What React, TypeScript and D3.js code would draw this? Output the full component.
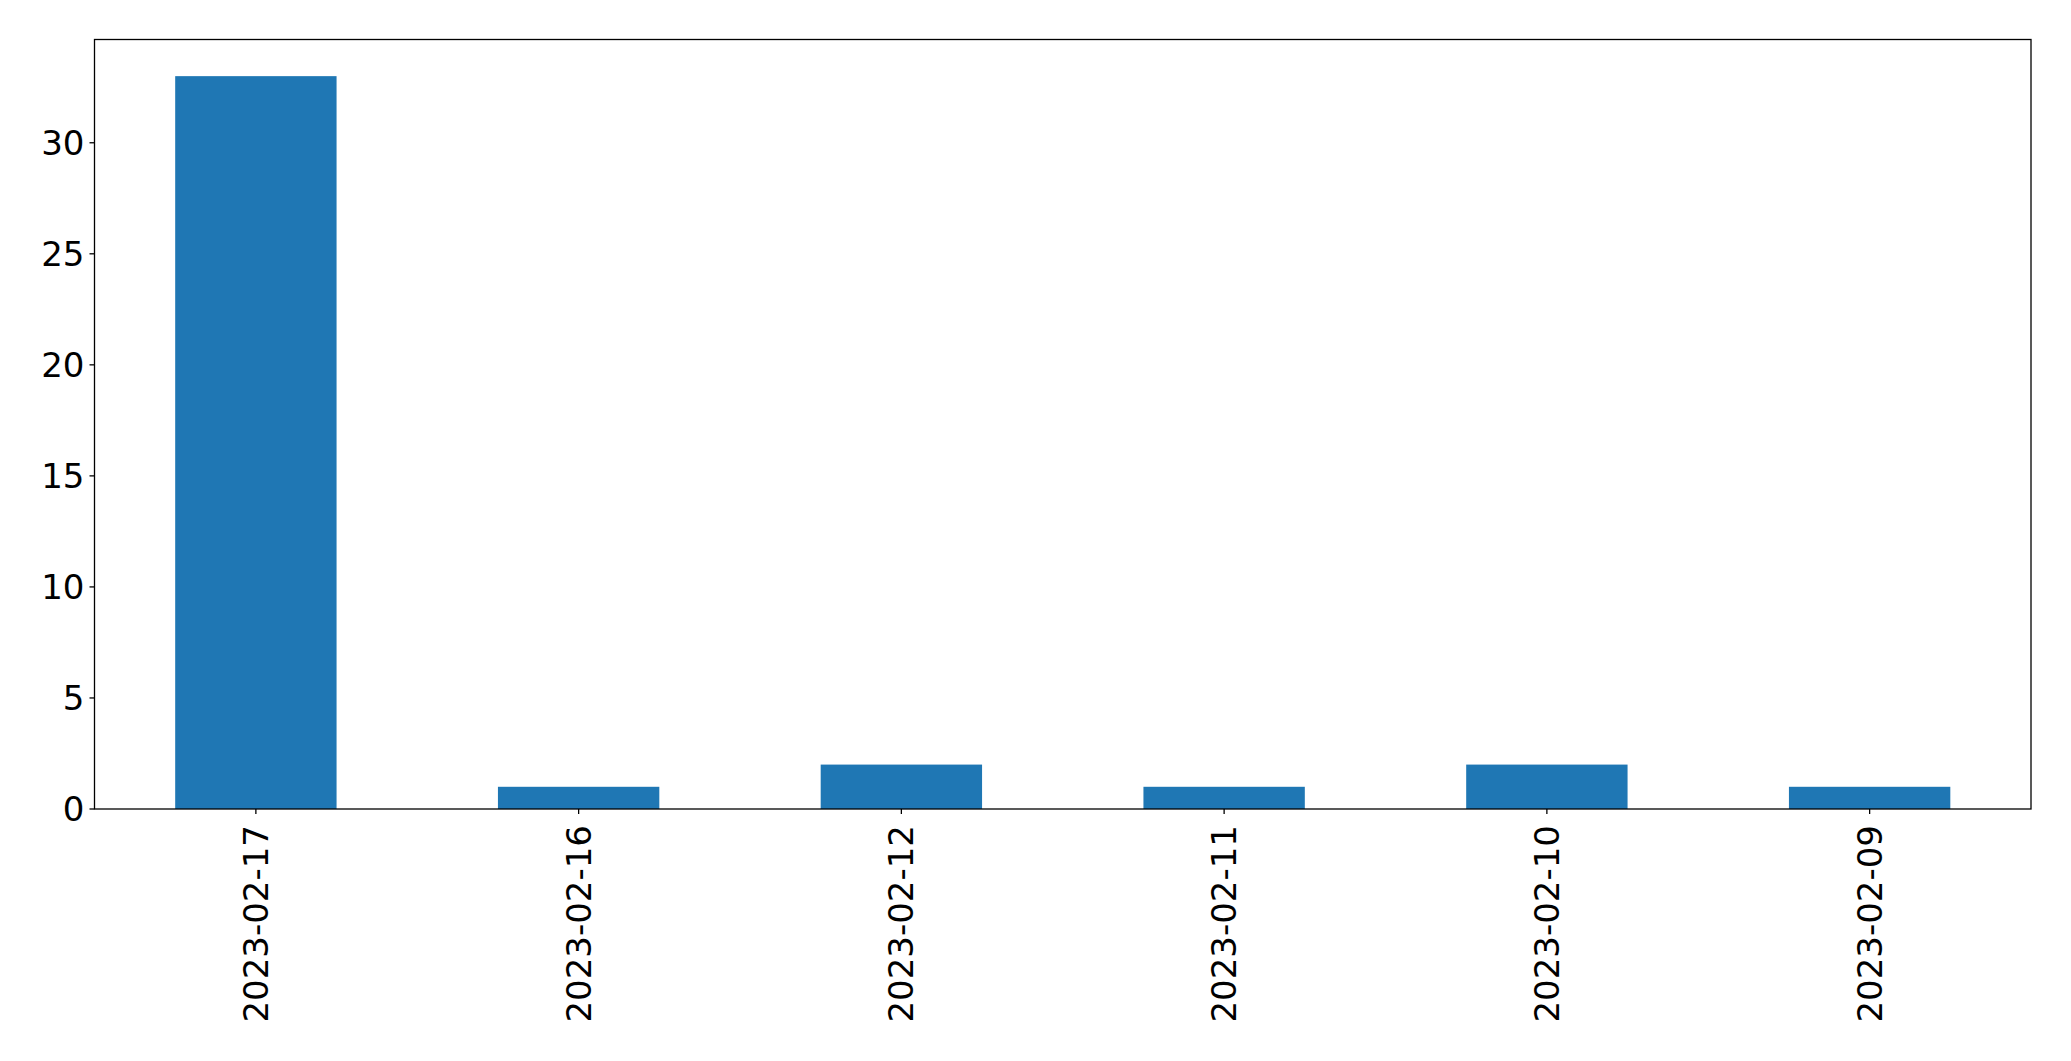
import * as d3 from "d3";
import { useEffect, useRef } from "react";

const BAR_COLOR = "#1f77b4";

const dates = [
  "2023-02-17",
  "2023-02-16",
  "2023-02-12",
  "2023-02-11",
  "2023-02-10",
  "2023-02-09",
];
const counts = [33, 1, 2, 1, 2, 1];
const yTicks = [0, 5, 10, 15, 20, 25, 30];

const App = () => {
  const svgRef = useRef(null);

  useEffect(() => {
    document.body.style.margin = "0";
    const width = 2071;
    const height = 1061;
    const left = 94.5,
      right = 2031,
      top = 39.5,
      bottom = 809;

    const svg = d3
      .select(svgRef.current)
      .attr("width", width)
      .attr("height", height);
    svg.selectAll("*").remove();

    // matplotlib-style: xlim -0.5 .. n-0.5, bar width 0.5
    const x = d3.scaleLinear([-0.5, dates.length - 0.5], [left, right]);
    const y = d3.scaleLinear([0, d3.max(counts)! * 1.05], [bottom, top]);

    svg
      .append("rect")
      .attr("width", width)
      .attr("height", height)
      .attr("fill", "white");

    svg
      .append("g")
      .selectAll("rect")
      .data(counts)
      .join("rect")
      .attr("x", (d, i) => x(i - 0.25))
      .attr("width", x(0.25) - x(-0.25))
      .attr("y", (d) => y(d))
      .attr("height", (d) => y(0) - y(d))
      .attr("fill", BAR_COLOR);

    // frame
    svg
      .append("rect")
      .attr("x", left)
      .attr("y", top)
      .attr("width", right - left)
      .attr("height", bottom - top)
      .attr("fill", "none")
      .attr("stroke", "black")
      .attr("stroke-width", 1.3);

    const font = "DejaVu Sans";
    const fontSize = 34;

    // y ticks
    const yg = svg.append("g");
    yTicks.forEach((t) => {
      yg.append("line")
        .attr("x1", left - 5)
        .attr("x2", left)
        .attr("y1", y(t))
        .attr("y2", y(t))
        .attr("stroke", "black")
        .attr("stroke-width", 1.3);
      yg.append("text")
        .attr("x", left - 10)
        .attr("y", y(t))
        .attr("text-anchor", "end")
        .attr("dominant-baseline", "central")
        .attr("font-family", font)
        .attr("font-size", fontSize)
        .attr("fill", "black")
        .text(t);
    });

    // x ticks
    const xg = svg.append("g");
    dates.forEach((d, i) => {
      xg.append("line")
        .attr("x1", x(i))
        .attr("x2", x(i))
        .attr("y1", bottom)
        .attr("y2", bottom + 5)
        .attr("stroke", "black")
        .attr("stroke-width", 1.3);
      xg.append("text")
        .attr(
          "transform",
          `translate(${x(i)},${bottom + 16}) rotate(-90)`
        )
        .attr("text-anchor", "end")
        .attr("dominant-baseline", "central")
        .attr("font-family", font)
        .attr("font-size", fontSize)
        .attr("fill", "black")
        .text(d);
    });
  }, []);

  return <svg ref={svgRef} style={{ display: "block" }}></svg>;
};

export default App;
